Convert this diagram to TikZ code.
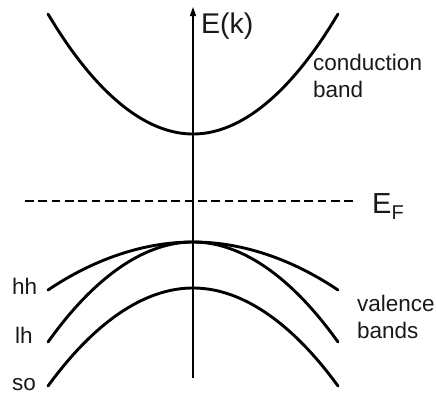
\documentclass[tikz,border=0pt]{standalone}
\usepackage{fontspec}
\setmainfont{Liberation Sans}
\usetikzlibrary{arrows.meta}
\begin{document}
\begin{tikzpicture}[x=1pt,y=-1pt,
  band/.style={line width=2.9pt,line cap=round},
  lbl/.style={inner sep=0pt,anchor=base west,font=\fontsize{22.5}{27}\selectfont,align=left,text=black!90},
  axisline/.style={line width=1.4pt,-{Triangle[length=9pt,width=6pt]}},
  fermi/.style={line width=1.6pt,dash pattern=on 8.7pt off 4.6pt}]
\useasboundingbox (0,0) rectangle (436,399);
% axis
\coordinate (a0) at (193,378);
\coordinate (a1) at (193,7);
\draw[axisline] (a0) -- (a1);
% Fermi level
\coordinate (f0) at (25,200.7);
\coordinate (f1) at (357,200.7);
\draw[fermi] (f0) -- (f1);
% conduction band
\draw[band] (48,14) parabola bend (193,134) (338,14);
% valence bands
\draw[band] (48,290) parabola bend (193,242) (338,290);
\draw[band] (48,342) parabola bend (193,242) (338,342);
\draw[band] (48,386) parabola bend (193,288) (338,386);
% labels
\node[lbl,font=\fontsize{28.5}{30}\selectfont] (ek) at (201,33) {E(k)};
\node[lbl] (cb) at (313,97) {conduction\\band};
\node[lbl,font=\fontsize{29}{30}\selectfont] (ef) at (372,213) {E\raisebox{-6pt}{\fontsize{20}{20}\selectfont F}};
\node[lbl] (hh) at (12,294) {hh};
\node[lbl] (lh) at (15,343) {lh};
\node[lbl] (so) at (12,390) {so};
\node[lbl] (vb) at (357,338) {valence\\bands};
\end{tikzpicture}
\end{document}
